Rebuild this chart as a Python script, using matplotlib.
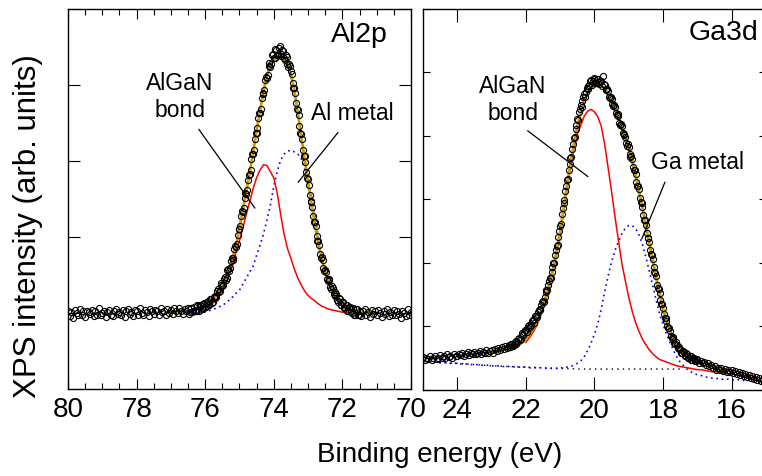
import numpy as np
import matplotlib
matplotlib.use('Agg')
import matplotlib.pyplot as plt
from matplotlib.ticker import MultipleLocator

plt.rcParams['font.family'] = ['Liberation Sans', 'DejaVu Sans']

# ---- Al2p panel ----
al_energy = np.linspace(80.0, 70.0, 201)   # 0.05 eV steps
al_counts = [
    1.03, 0.96, 1.01, 0.94, 1.04, 1.00, 0.98, 1.05, 0.97, 1.02,
    0.95, 1.03, 1.01, 0.99, 1.04, 0.96, 1.02, 0.98, 1.06, 0.97,
    1.00, 1.03, 0.95, 1.01, 1.04, 0.98, 0.96, 1.02, 1.05, 0.99,
    1.01, 0.97, 1.04, 0.95, 1.02, 1.05, 0.99, 1.01, 0.96, 1.04,
    1.03, 0.98, 1.06, 1.00, 0.97, 1.04, 1.01, 0.96, 1.05, 1.02,
    0.99, 1.04, 1.02, 0.97, 1.06, 1.01, 1.03, 0.98, 1.05, 1.00,
    1.04, 0.99, 1.06, 1.02, 1.00, 1.07, 1.03, 0.99, 1.05, 1.02,
    1.06, 1.01, 1.07, 1.03, 1.02, 1.09, 1.04, 1.10, 1.06, 1.12,
    1.08, 1.15, 1.11, 1.19, 1.13, 1.21, 1.20, 1.29, 1.28, 1.37,
    1.36, 1.45, 1.44, 1.56, 1.55, 1.69, 1.70, 1.84, 1.87, 2.03,
    2.10, 2.28, 2.33, 2.51, 2.57, 2.75, 2.83, 3.02, 3.09, 3.29,
    3.37, 3.57, 3.63, 3.83, 3.88, 4.06, 4.09, 4.25, 4.24, 4.39,
    4.35, 4.47, 4.40, 4.49, 4.41, 4.46, 4.36, 4.40, 4.27, 4.28,
    4.19, 4.03, 3.96, 3.76, 3.67, 3.46, 3.36, 3.15, 3.06, 2.85,
    2.76, 2.55, 2.46, 2.27, 2.20, 2.01, 1.95, 1.78, 1.74, 1.59,
    1.57, 1.45, 1.45, 1.34, 1.35, 1.25, 1.27, 1.17, 1.20, 1.11,
    1.15, 1.07, 1.11, 1.03, 1.08, 1.01, 1.06, 0.98, 1.05, 0.97,
    1.03, 0.96, 1.02, 1.05, 0.98, 1.01, 0.95, 1.04, 0.99, 1.02,
    0.97, 1.04, 1.00, 0.95, 1.03, 0.99, 1.05, 0.96, 1.01, 0.98,
    1.04, 0.97, 1.02, 0.99, 0.94, 1.03, 1.00, 0.96, 1.05, 0.98,
    1.01,
]
# second scan over the peak region, shifted half a step
al_energy_b = np.linspace(76.475, 71.525, 100)
al_counts_b = [
    0.99, 1.07, 1.01, 1.08, 1.02, 1.10, 1.03, 1.11, 1.05, 1.13,
    1.08, 1.16, 1.12, 1.19, 1.14, 1.23, 1.21, 1.31, 1.29, 1.40,
    1.37, 1.47, 1.46, 1.58, 1.59, 1.72, 1.73, 1.88, 1.91, 2.10,
    2.15, 2.34, 2.38, 2.58, 2.62, 2.82, 2.88, 3.09, 3.15, 3.37,
    3.43, 3.63, 3.69, 3.89, 3.93, 4.11, 4.13, 4.29, 4.27, 4.41,
    4.36, 4.46, 4.40, 4.51, 4.38, 4.45, 4.33, 4.37, 4.24, 4.25,
    4.15, 3.96, 3.90, 3.68, 3.60, 3.37, 3.29, 3.07, 2.99, 2.77,
    2.69, 2.47, 2.40, 2.20, 2.14, 1.95, 1.90, 1.73, 1.70, 1.55,
    1.54, 1.42, 1.43, 1.31, 1.33, 1.23, 1.25, 1.15, 1.19, 1.10,
    1.14, 1.06, 1.10, 1.02, 1.08, 1.00, 1.06, 0.98, 1.05, 0.97,
]
al_fit_e = np.linspace(77.0, 71.0, 61)
al_fit = [
    1.02, 1.02, 1.02, 1.03, 1.03, 1.03, 1.04, 1.05, 1.06, 1.08,
    1.10, 1.13, 1.16, 1.22, 1.30, 1.38, 1.47, 1.58, 1.72, 1.89,
    2.12, 2.36, 2.60, 2.85, 3.12, 3.40, 3.66, 3.91, 4.12, 4.26,
    4.33, 4.37, 4.37, 4.33, 4.26, 4.14, 3.93, 3.64, 3.33, 3.03,
    2.73, 2.43, 2.17, 1.92, 1.71, 1.54, 1.42, 1.32, 1.24, 1.17,
    1.12, 1.08, 1.05, 1.03, 1.02, 1.01, 1.00, 1.00, 1.00, 1.00,
    1.00,
]
al_bond_e = np.linspace(76.0, 71.8, 43)
al_bond = [
    1.07, 1.09, 1.12, 1.16, 1.22, 1.30, 1.38, 1.50, 1.63, 1.80,
    1.95, 2.12, 2.30, 2.47, 2.64, 2.78, 2.88, 2.95, 2.94, 2.86,
    2.78, 2.58, 2.30, 2.04, 1.85, 1.72, 1.58, 1.46, 1.37, 1.29,
    1.23, 1.19, 1.16, 1.12, 1.09, 1.07, 1.05, 1.04, 1.03, 1.02,
    1.01, 1.01, 1.00,
]
al_metal_e = np.linspace(76.5, 71.6, 50)
al_metal = [
    1.00, 1.00, 1.00, 1.01, 1.01,
    1.02, 1.03, 1.04, 1.06, 1.08, 1.10, 1.13, 1.17, 1.21, 1.26,
    1.30, 1.38, 1.46, 1.54, 1.62, 1.76, 1.89, 2.04, 2.22, 2.42,
    2.66, 2.86, 3.01, 3.09, 3.13, 3.14, 3.12, 3.09, 3.03, 2.90,
    2.72, 2.53, 2.29, 1.98, 1.72, 1.52, 1.38, 1.27, 1.18, 1.12,
    1.08, 1.05, 1.03, 1.02, 1.01,
]

# ---- Ga3d panel ----
ga_energy = np.linspace(25.0, 15.0, 201)   # 0.05 eV steps
ga_counts = [
    0.52, 0.47, 0.51, 0.49, 0.53, 0.48, 0.50, 0.54, 0.49, 0.51,
    0.55, 0.50, 0.53, 0.51, 0.56, 0.52, 0.54, 0.50, 0.57, 0.53,
    0.53, 0.57, 0.55, 0.59, 0.54, 0.56, 0.60, 0.55, 0.58, 0.56,
    0.60, 0.56, 0.59, 0.62, 0.57, 0.60, 0.58, 0.63, 0.59, 0.61,
    0.63, 0.59, 0.64, 0.62, 0.66, 0.63, 0.68, 0.64, 0.69, 0.66,
    0.71, 0.68, 0.73, 0.71, 0.77, 0.75, 0.82, 0.81, 0.89, 0.91,
    0.95, 0.98, 1.03, 1.02, 1.10, 1.12, 1.17, 1.23, 1.27, 1.34,
    1.40, 1.47, 1.58, 1.66, 1.76, 1.86, 2.00, 2.12, 2.27, 2.41,
    2.59, 2.77, 2.95, 3.14, 3.30, 3.47, 3.65, 3.80, 3.97, 4.11,
    4.26, 4.37, 4.49, 4.55, 4.66, 4.70, 4.79, 4.81, 4.88, 4.86,
    4.91, 4.84, 4.89, 4.85, 4.86, 4.94, 4.80, 4.74, 4.71, 4.60,
    4.58, 4.47, 4.45, 4.33, 4.31, 4.18, 4.15, 4.02, 3.99, 3.85,
    3.82, 3.67, 3.63, 3.46, 3.40, 3.22, 3.16, 2.96, 2.88, 2.68,
    2.60, 2.40, 2.33, 2.14, 2.06, 1.86, 1.79, 1.60, 1.53, 1.35,
    1.29, 1.14, 1.09, 0.97, 0.93, 0.82, 0.81, 0.72, 0.71, 0.65,
    0.64, 0.58, 0.60, 0.54, 0.56, 0.50, 0.53, 0.47, 0.50, 0.45,
    0.48, 0.43, 0.46, 0.42, 0.44, 0.39, 0.42, 0.37, 0.39, 0.35,
    0.37, 0.32, 0.35, 0.31, 0.34, 0.30, 0.33, 0.29, 0.32, 0.28,
    0.31, 0.26, 0.30, 0.25, 0.28, 0.23, 0.26, 0.22, 0.25, 0.20,
    0.23, 0.19, 0.22, 0.17, 0.20, 0.16, 0.19, 0.14, 0.17, 0.13,
    0.16,
]
ga_energy_b = np.linspace(22.475, 17.025, 110)
ga_counts_b = [
    0.67, 0.73, 0.70, 0.76, 0.73, 0.80, 0.79, 0.87, 0.86, 0.94,
    0.92, 1.01, 0.99, 1.08, 1.06, 1.16, 1.15, 1.26, 1.26, 1.38,
    1.39, 1.54, 1.57, 1.72, 1.76, 1.94, 2.00, 2.20, 2.28, 2.50,
    2.62, 2.86, 2.99, 3.22, 3.33, 3.56, 3.67, 3.88, 3.99, 4.18,
    4.25, 4.43, 4.46, 4.62, 4.61, 4.75, 4.74, 4.86, 4.81, 4.90,
    4.84, 4.90, 4.82, 4.87, 4.78, 4.82, 4.72, 4.74, 4.62, 4.61,
    4.50, 4.49, 4.36, 4.35, 4.21, 4.19, 4.05, 4.03, 3.89, 3.87,
    3.72, 3.68, 3.51, 3.46, 3.28, 3.22, 3.03, 2.95, 2.75, 2.67,
    2.47, 2.39, 2.20, 2.13, 1.93, 1.85, 1.66, 1.59, 1.41, 1.35,
    1.19, 1.14, 1.00, 0.98, 0.85, 0.84, 0.74, 0.75, 0.66, 0.67,
    0.59, 0.62, 0.55, 0.58, 0.51, 0.54, 0.48, 0.51, 0.45, 0.49,
]
ga_fit_e = np.linspace(23.0, 16.0, 71)
ga_fit = [
    0.60, 0.61, 0.62, 0.63, 0.64, 0.65, 0.66, 0.68, 0.71, 0.75,
    0.80, 0.87, 0.95, 1.05, 1.17, 1.32, 1.50, 1.70, 1.93, 2.20,
    2.50, 2.86, 3.22, 3.56, 3.88, 4.16, 4.39, 4.56, 4.68, 4.76,
    4.80, 4.81, 4.79, 4.74, 4.66, 4.55, 4.42, 4.28, 4.13, 3.97,
    3.80, 3.61, 3.38, 3.13, 2.86, 2.58, 2.31, 2.04, 1.77, 1.51,
    1.28, 1.08, 0.92, 0.80, 0.71, 0.64, 0.59, 0.55, 0.52, 0.49,
    0.47, 0.45, 0.43, 0.41, 0.39, 0.37, 0.35, 0.33, 0.32, 0.31,
    0.30,
]
ga_bond_e = np.linspace(22.0, 15.3, 68)
ga_bond = [
    0.75, 0.82, 0.90, 1.00, 1.12, 1.27, 1.45, 1.65, 1.88, 2.15,
    2.45, 2.80, 3.16, 3.50, 3.80, 4.03, 4.17, 4.31, 4.39, 4.42,
    4.38, 4.30, 4.15, 3.86, 3.49, 3.12, 2.72, 2.35, 1.99, 1.72,
    1.46, 1.24, 1.06, 0.92, 0.80, 0.71, 0.63, 0.57, 0.52, 0.48,
    0.46, 0.44, 0.42, 0.40, 0.38, 0.37, 0.36, 0.35, 0.34, 0.33,
    0.32, 0.32, 0.31, 0.30, 0.29, 0.29, 0.28, 0.27, 0.26, 0.26,
    0.25, 0.24, 0.23, 0.22, 0.21, 0.20, 0.19, 0.18,
]
ga_metal_e = np.linspace(25.0, 15.0, 101)
ga_metal = [
    0.45, 0.45, 0.44, 0.44, 0.44, 0.43, 0.43, 0.43, 0.42, 0.42,
    0.42, 0.41, 0.41, 0.41, 0.40, 0.40, 0.40, 0.39, 0.39, 0.39,
    0.38, 0.38, 0.38, 0.37, 0.37, 0.37, 0.37, 0.36, 0.36, 0.36,
    0.36, 0.35, 0.35, 0.35, 0.35, 0.35, 0.34, 0.34, 0.34, 0.34,
    0.35, 0.35, 0.36, 0.37, 0.39, 0.42, 0.46, 0.52, 0.62, 0.74,
    0.88, 1.05, 1.28, 1.55, 1.80, 2.02, 2.20, 2.34, 2.46, 2.55,
    2.59, 2.59, 2.54, 2.44, 2.29, 2.09, 1.87, 1.64, 1.41, 1.20,
    1.03, 0.88, 0.75, 0.63, 0.52, 0.44, 0.38, 0.33, 0.29, 0.26,
    0.24, 0.23, 0.21, 0.20, 0.19, 0.18, 0.18, 0.17, 0.17, 0.17,
    0.16, 0.16, 0.16, 0.15, 0.15, 0.15, 0.15, 0.14, 0.14, 0.14,
    0.14,
]
ga_bg_e = np.linspace(25.0, 17.5, 16)
ga_bg = [0.45, 0.43, 0.42, 0.40, 0.38, 0.37, 0.36, 0.35, 0.34, 0.33,
         0.33, 0.33, 0.33, 0.33, 0.33, 0.33]

fit_color = '#c9a000'
pt_style = dict(ls='none', marker='o', mfc='none', mec='black', ms=4.4, mew=0.8, zorder=4)

fig = plt.figure(figsize=(7.62, 4.76), dpi=100)
ax1 = fig.add_axes([0.0892, 0.1828, 0.4501, 0.7983])
ax2 = fig.add_axes([0.5551, 0.1807, 0.4501, 0.8004])

dot = (0, (1, 2.2))

# left
ax1.plot(al_metal_e, al_metal, color='blue', lw=1.2, ls=dot, zorder=2)
ax1.plot(al_bond_e, al_bond, color='red', lw=1.1, zorder=2)
ax1.plot(al_fit_e, al_fit, color=fit_color, lw=2.0, zorder=3)
ax1.plot(al_energy, al_counts, **pt_style)
ax1.plot(al_energy_b, al_counts_b, **pt_style)
ax1.set_xlim(80, 70)
ax1.set_ylim(0, 5)
ax1.xaxis.set_major_locator(MultipleLocator(2))
ax1.xaxis.set_minor_locator(MultipleLocator(0.5))
ax1.yaxis.set_major_locator(MultipleLocator(1))
ax1.tick_params(which='both', direction='in', top=True, right=True,
                labelleft=False, width=0.8, labelsize=20, pad=6)
ax1.tick_params(axis='x', which='major', length=7.2)
ax1.tick_params(axis='x', which='minor', length=4.3)
ax1.tick_params(axis='y', which='major', length=8.6)
ax1.text(0.933, 0.966, 'Al2p', transform=ax1.transAxes, ha='right', va='top', fontsize=20.5)
ax1.annotate('AlGaN\nbond', xy=(74.55, 2.38), xytext=(76.73, 3.84), ha='center', va='center',
             fontsize=16.5, arrowprops=dict(arrowstyle='-', color='black', lw=0.9,
                                            relpos=(0.7, 0.0), shrinkA=4, shrinkB=0))
ax1.annotate('Al metal', xy=(73.29, 2.72), xytext=(71.72, 3.62), ha='center', va='center',
             fontsize=16.5, arrowprops=dict(arrowstyle='-', color='black', lw=0.9,
                                            relpos=(0.4, 0.0), shrinkA=4, shrinkB=0))

# right
ax2.plot(ga_bg_e, ga_bg, color='black', lw=1.0, ls=(0, (1, 3)), zorder=2)
ax2.plot(ga_metal_e, ga_metal, color='blue', lw=1.2, ls=dot, zorder=2)
ax2.plot(ga_bond_e, ga_bond, color='red', lw=1.1, zorder=2)
ax2.plot(ga_fit_e, ga_fit, color=fit_color, lw=2.0, zorder=3)
ax2.plot(ga_energy, ga_counts, **pt_style)
ax2.plot(ga_energy_b, ga_counts_b, **pt_style)
ax2.set_xlim(25, 15)
ax2.set_ylim(0, 6)
ax2.xaxis.set_major_locator(MultipleLocator(2))
ax2.yaxis.set_major_locator(MultipleLocator(1))
ax2.tick_params(which='both', direction='in', top=True, right=True,
                labelleft=False, width=0.8, labelsize=20, pad=6)
ax2.tick_params(axis='x', which='major', length=9.4)
ax2.tick_params(axis='y', which='major', length=5)
ax2.text(0.977, 0.971, 'Ga3d', transform=ax2.transAxes, ha='right', va='top', fontsize=20.5)
ax2.annotate('AlGaN\nbond', xy=(20.19, 3.36), xytext=(22.38, 4.57), ha='center', va='center',
             fontsize=16.5, arrowprops=dict(arrowstyle='-', color='black', lw=0.9,
                                            relpos=(0.6, 0.0), shrinkA=4, shrinkB=0))
ax2.annotate('Ga metal', xy=(18.62, 2.38), xytext=(17.01, 3.58), ha='center', va='center',
             fontsize=16.5, arrowprops=dict(arrowstyle='-', color='black', lw=0.9,
                                            relpos=(0.19, 0.0), shrinkA=4, shrinkB=0))

for ax in (ax1, ax2):
    for s in ax.spines.values():
        s.set_linewidth(1.0)

fig.text(0.577, 1 - 455 / 476, 'Binding energy (eV)', ha='center', va='center', fontsize=20)
fig.text(28 / 762, 1 - 226 / 476, 'XPS intensity (arb. units)', ha='center', va='center',
         rotation=90, fontsize=22.5)

fig.savefig('out.png', dpi=100)
